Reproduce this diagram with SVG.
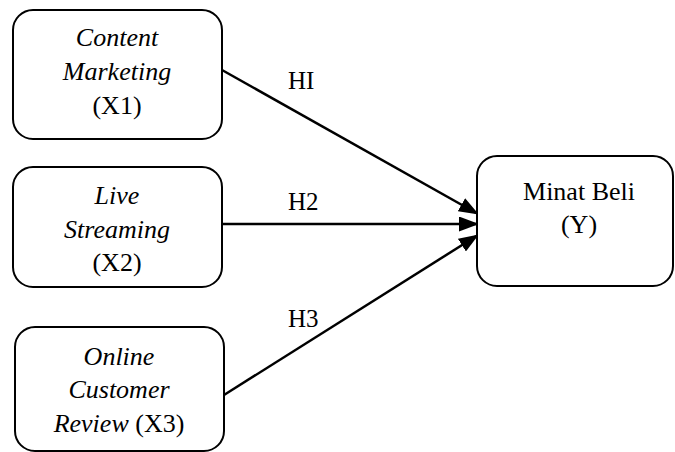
<svg xmlns="http://www.w3.org/2000/svg" width="675" height="452" viewBox="0 0 675 452">
<style>
.box{fill:#fff;stroke:#000;stroke-width:2}
.t{font-family:"Liberation Serif","Times New Roman",serif;font-size:26px;fill:#000;text-anchor:middle}
.i{font-style:italic}
.lbl{font-family:"Liberation Serif","Times New Roman",serif;font-size:25px;fill:#000}
.c{stroke:#000;stroke-width:2.5;fill:none;marker-end:url(#ah)}
</style>
<defs>
<marker id="ah" markerWidth="8" markerHeight="6" refX="7.6" refY="3" orient="auto" markerUnits="strokeWidth">
<path d="M0,0 L8,3 L0,6 z" fill="#000"/>
</marker>
</defs>
<rect width="675" height="452" fill="#fff"/>
<g id="connectors">
<line class="c" x1="222" y1="70" x2="478" y2="214"/>
<line class="c" x1="222" y1="224" x2="478" y2="224"/>
<line class="c" x1="224" y1="395" x2="478" y2="235"/>
<text class="lbl" x="288" y="89">HI</text>
<text class="lbl" x="288" y="210">H2</text>
<text class="lbl" x="288" y="327">H3</text>
</g>
<g id="x1">
<rect class="box" x="13" y="10" width="209" height="129" rx="20"/>
<text class="t i" x="117" y="46">Content</text>
<text class="t i" x="117" y="80">Marketing</text>
<text class="t" x="117" y="114">(X1)</text>
</g>
<g id="x2">
<rect class="box" x="13" y="167" width="209" height="120" rx="20"/>
<text class="t i" x="117" y="204">Live</text>
<text class="t i" x="117" y="238">Streaming</text>
<text class="t" x="117" y="271">(X2)</text>
</g>
<g id="x3">
<rect class="box" x="15" y="327" width="209" height="124" rx="20"/>
<text class="t i" x="119" y="365">Online</text>
<text class="t i" x="119" y="398">Customer</text>
<text class="t" x="119" y="432"><tspan class="i">Review</tspan> (X3)</text>
</g>
<g id="y">
<rect class="box" x="477" y="156" width="196" height="130" rx="20"/>
<text class="t" x="579" y="200">Minat Beli</text>
<text class="t" x="579" y="233">(Y)</text>
</g>
</svg>
